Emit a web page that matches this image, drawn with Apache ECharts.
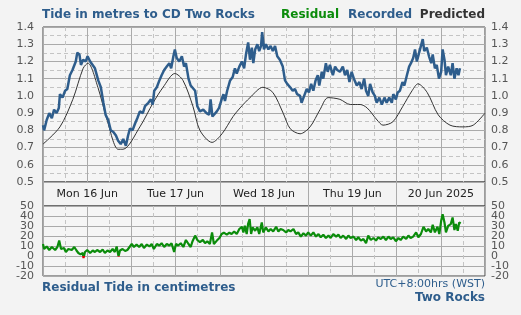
<!DOCTYPE html>
<html>
<head>
<meta charset="utf-8">
<script src="https://cdn.jsdelivr.net/npm/echarts@6/dist/echarts.min.js"></script>
<style>
  html, body { margin: 0; padding: 0; background: #f3f3f3; }
  #chart { width: 521px; height: 315px; }
</style>
</head>
<body>
<div id="chart"></div>
<script>
// hours since Mon 16 Jun 00:00 (WST)
var days = ["Mon 16 Jun", "Tue 17 Jun", "Wed 18 Jun", "Thu 19 Jun", "20 Jun 2025"];

// predicted tide (m)
var predicted = [
  [0, 0.72], [4.6, 0.82], [8.1, 0.98], [10.9, 1.16], [12.2, 1.19], [14.9, 1.05],
  [17.4, 0.86], [20.4, 0.69], [21.7, 0.69], [26.3, 0.82], [29.9, 0.96], [32.6, 1.05],
  [35.8, 1.13], [38.0, 1.09], [40.7, 0.94], [42.6, 0.80], [45.9, 0.73], [48.6, 0.78],
  [51.6, 0.88], [53.5, 0.93], [56.2, 0.99], [59.7, 1.05], [62.4, 1.02], [65.2, 0.90],
  [67.1, 0.81], [69.8, 0.78], [72.5, 0.82], [75.2, 0.92], [77.4, 0.99], [80.6, 0.98],
  [83.4, 0.95], [86.1, 0.95], [88.0, 0.93], [90.7, 0.86], [92.3, 0.83], [95.0, 0.85],
  [97.7, 0.94], [100.2, 1.03], [101.8, 1.07], [104.3, 1.02], [107.3, 0.89], [110.5, 0.83],
  [114.0, 0.82], [116.8, 0.83], [120, 0.90]
];

// recorded tide (m)
var recorded = [
  [0, 0.83], [0.3, 0.80], [1.0, 0.86], [1.7, 0.90], [2.4, 0.87], [3.0, 0.92], [3.7, 0.90],
  [4.3, 0.93], [4.6, 1.01], [5.3, 0.99], [6.0, 1.03], [6.6, 1.04], [7.3, 1.12], [8.0, 1.15],
  [8.4, 1.14], [8.9, 1.20], [9.3, 1.25], [9.9, 1.24], [10.3, 1.18], [10.9, 1.21], [11.6, 1.20],
  [12.1, 1.23], [12.8, 1.20], [13.2, 1.19], [14.1, 1.16], [15.0, 1.09], [15.7, 1.05],
  [16.4, 0.96], [17.0, 0.89], [17.7, 0.86], [18.4, 0.80], [19.1, 0.79], [19.8, 0.77],
  [20.4, 0.74], [21.1, 0.72], [21.8, 0.75], [22.5, 0.71], [23.1, 0.77], [23.6, 0.81],
  [24.3, 0.80], [25.0, 0.84], [25.6, 0.87], [26.3, 0.91], [27.1, 0.90], [27.7, 0.94],
  [28.6, 0.96], [29.3, 0.98], [29.8, 0.95], [30.2, 1.03], [30.9, 1.05], [31.6, 1.09],
  [32.2, 1.12], [32.9, 1.15], [33.6, 1.17], [34.3, 1.19], [34.8, 1.16], [35.4, 1.23],
  [35.8, 1.27], [36.3, 1.22], [37.0, 1.20], [37.7, 1.23], [38.3, 1.17], [38.8, 1.19],
  [39.5, 1.10], [40.1, 1.06], [40.6, 1.07], [41.3, 1.03], [41.9, 0.94], [42.6, 0.91],
  [43.5, 0.92], [44.4, 0.90], [45.1, 0.89], [45.5, 0.98], [46.0, 0.88], [46.5, 0.87],
  [47.2, 0.91], [47.8, 0.93], [48.5, 0.98], [49.0, 1.01], [49.4, 0.97], [50.0, 1.03],
  [50.8, 1.09], [51.5, 1.11], [52.1, 1.16], [52.6, 1.13], [53.3, 1.17], [54.0, 1.20],
  [54.6, 1.16], [55.1, 1.24], [55.7, 1.31], [56.2, 1.21], [56.7, 1.28], [57.1, 1.19],
  [57.6, 1.27], [58.2, 1.30], [58.7, 1.26], [59.2, 1.29], [59.5, 1.37], [60.0, 1.27],
  [60.5, 1.30], [61.2, 1.27], [61.8, 1.29], [62.4, 1.26], [63.0, 1.29], [63.6, 1.23],
  [64.3, 1.21], [65.1, 1.17], [65.7, 1.09], [66.3, 1.07], [67.1, 1.05], [67.8, 1.03],
  [68.4, 1.04], [69.0, 1.01], [69.8, 1.00], [70.2, 0.96], [70.9, 1.00], [71.6, 1.04],
  [72.2, 1.02], [72.8, 1.07], [73.4, 1.03], [74.0, 1.09], [74.6, 1.12], [75.0, 1.06],
  [75.7, 1.14], [76.1, 1.10], [76.8, 1.19], [77.3, 1.14], [77.9, 1.18], [78.7, 1.12],
  [79.3, 1.17], [79.9, 1.15], [80.6, 1.14], [81.4, 1.17], [82.0, 1.12], [82.6, 1.15],
  [83.2, 1.08], [83.8, 1.14], [84.4, 1.10], [85.2, 1.06], [85.9, 1.08], [86.5, 1.04],
  [87.2, 1.10], [87.7, 1.03], [88.3, 1.00], [88.8, 1.07], [89.5, 1.02], [90.1, 1.00],
  [90.6, 0.96], [91.3, 0.99], [92.0, 0.95], [92.7, 0.99], [93.3, 0.96], [94.0, 0.99],
  [94.7, 0.96], [95.1, 1.01], [95.8, 0.98], [96.3, 1.02], [96.9, 1.03], [97.6, 1.08],
  [98.1, 1.06], [98.8, 1.12], [99.4, 1.17], [99.9, 1.19], [100.5, 1.22], [101.0, 1.27],
  [101.5, 1.20], [102.1, 1.25], [102.6, 1.24], [103.1, 1.33], [103.5, 1.26], [104.2, 1.28],
  [104.8, 1.23], [105.4, 1.19], [105.8, 1.24], [106.4, 1.16], [106.9, 1.18], [107.5, 1.10],
  [108.1, 1.14], [108.5, 1.27], [109.0, 1.21], [109.4, 1.12], [110.0, 1.17], [110.7, 1.12],
  [111.2, 1.19], [111.7, 1.10], [112.3, 1.16], [112.8, 1.12], [113.2, 1.16]
];

// residual (cm)
var residual = [
  [0, 12], [0.3, 7], [1.0, 9.5], [1.7, 6], [2.4, 9], [3.3, 6], [3.9, 9], [4.4, 15.4],
  [4.9, 7], [5.7, 8], [6.2, 4], [6.9, 7], [7.8, 6], [8.5, 9], [9.1, 5.5], [9.6, 3],
  [10.2, 1.6], [10.8, 3], [11.0, -2], [11.4, 4], [12.0, 6], [12.8, 3], [13.5, 5.5],
  [14.1, 4], [14.7, 6], [15.5, 4], [16.2, 6.5], [16.8, 3], [17.5, 5.5], [18.2, 4],
  [18.9, 7], [19.5, 4], [20.0, 9.5], [20.5, -0.4], [20.9, 5.5], [21.6, 7], [22.3, 5],
  [22.9, 6], [23.4, 4], [24.1, 12], [24.7, 9], [25.4, 11.5], [26.1, 9], [26.8, 12],
  [27.4, 8], [28.2, 11.5], [28.9, 9.5], [29.5, 12], [30.1, 7], [30.9, 12], [31.6, 10.5],
  [32.2, 12.8], [32.9, 9], [33.6, 12], [34.3, 10.5], [34.9, 12.8], [35.6, 4], [36.1, 12],
  [36.7, 10.5], [37.4, 12.8], [38.1, 9], [38.8, 16], [39.5, 12], [40.1, 9], [40.6, 14.8],
  [41.3, 20.4], [41.9, 16], [42.6, 13.8], [43.4, 16], [44.0, 12.8], [44.6, 14.8],
  [45.3, 12], [45.9, 23.6], [46.4, 12], [47.2, 15.4], [47.9, 18], [48.5, 22], [49.1, 23.3],
  [49.9, 21.3], [50.6, 23.3], [51.2, 22], [51.9, 24.6], [52.6, 22], [53.3, 27], [54.0, 29.2],
  [54.4, 23.6], [54.8, 30.2], [55.3, 22], [55.7, 32.5], [56.1, 36.8], [56.5, 22],
  [56.9, 28.6], [57.6, 25.3], [58.2, 28.6], [58.7, 22], [59.4, 33.5], [59.8, 23.6],
  [60.5, 28.6], [61.2, 24.6], [61.8, 27], [62.5, 24.6], [63.3, 29.2], [63.9, 24.6],
  [64.5, 27], [65.2, 26], [66.0, 23.6], [66.6, 26], [67.2, 24.6], [68.0, 27], [68.7, 22],
  [69.3, 23.6], [70.0, 19.4], [70.7, 22.7], [71.4, 20.4], [72.0, 23.6], [72.7, 20.4],
  [73.4, 23.6], [74.1, 19.4], [74.8, 22], [75.4, 18.7], [76.1, 21.3], [76.8, 18],
  [77.5, 20.4], [78.1, 18], [78.8, 22], [79.6, 19.4], [80.2, 21.3], [80.8, 18], [81.5, 20.4],
  [82.3, 17], [82.9, 20.4], [83.5, 18], [84.3, 19.4], [85.0, 16], [85.6, 18.7], [86.3, 15.4],
  [87.0, 17], [87.7, 12.8], [88.3, 20.4], [89.0, 16], [89.7, 18], [90.4, 15.4], [91.0, 18.7],
  [91.7, 17], [92.4, 19.4], [93.1, 16], [93.8, 19.4], [94.4, 17], [95.1, 18.7], [95.8, 14.8],
  [96.5, 18], [97.1, 16], [97.8, 19.4], [98.6, 17], [99.2, 20.4], [99.8, 18], [100.5, 19.4],
  [101.3, 23.6], [101.9, 18.7], [102.6, 22], [103.3, 29.2], [104.0, 24.6], [104.6, 27],
  [105.3, 23.6], [105.8, 31.2], [106.4, 23.6], [107.1, 29.2], [107.6, 22], [108.1, 35.2],
  [108.5, 41.7], [109.0, 33.5], [109.4, 23.6], [110.0, 30.2], [110.7, 31.9], [111.2, 38.5],
  [111.7, 26], [112.1, 31.9], [112.6, 25.3], [113.0, 33.5], [113.4, 32.5]
];

var FONT = "DejaVu Sans";
var BLUE = "#2e5d8c";
var LABEL = "#555";

var chart = echarts.init(document.getElementById("chart"));

function timeAxis(grid) {
  return {
    type: "value", gridIndex: grid, min: 0, max: 120, interval: 12,
    axisLabel: { show: false }, axisLine: { show: false }, axisTick: { show: false },
    splitLine: { show: true, lineStyle: { color: "#aaa", width: 1 } },
    minorTick: { show: false, splitNumber: 2 },
    minorSplitLine: { show: true, lineStyle: { color: "#c4c4c4", type: [4, 3] } }
  };
}

function levelAxis(grid, pos, min, max, step, fmt, lines, minor) {
  return {
    type: "value", gridIndex: grid, position: pos, min: min, max: max, interval: step,
    axisLine: { show: false }, axisTick: { show: false },
    axisLabel: {
      color: LABEL, fontFamily: FONT, fontSize: 11,
      showMinLabel: true, showMaxLabel: true, hideOverlap: false,
      margin: pos === "left" ? 9 : 6, formatter: fmt
    },
    splitLine: { show: lines, lineStyle: { color: "#aaa", width: 1 } },
    minorTick: { show: false, splitNumber: 2 },
    minorSplitLine: { show: minor, lineStyle: { color: "#c4c4c4", type: [4, 3] } }
  };
}

var fmtM = function (v) { return v.toFixed(1); };
// residual labels are only 10px apart, so they are split over two axes
var fmtEven = function (v) { return Math.round(v / 10) % 2 === 0 ? String(Math.round(v)) : ""; };
var fmtOdd = function (v) { return Math.round(v / 10) % 2 !== 0 ? String(Math.round(v)) : ""; };

var option = {
  animation: false,
  backgroundColor: "#f3f3f3",
  grid: [
    { left: 43, top: 27, width: 442, height: 155, show: true, borderColor: "#444", borderWidth: 1, backgroundColor: "#f5f5f5" },
    { left: 43, top: 182, width: 442, height: 24, show: true, borderColor: "#444", borderWidth: 1 },
    { left: 43, top: 206, width: 442, height: 70, show: true, borderColor: "#444", borderWidth: 1, backgroundColor: "#f5f5f5" }
  ],
  xAxis: [
    timeAxis(0),
    {
      type: "category", gridIndex: 1, data: days, position: "top", boundaryGap: true,
      axisLine: { show: false }, axisTick: { show: false },
      axisLabel: { inside: true, margin: 7, verticalAlign: "top", color: "#222", fontFamily: FONT, fontSize: 11 },
      splitLine: { show: true, interval: 0, lineStyle: { color: "#aaa" } }
    },
    timeAxis(2)
  ],
  yAxis: [
    levelAxis(0, "left", 0.5, 1.4, 0.1, fmtM, true, true),
    levelAxis(0, "right", 0.5, 1.4, 0.1, fmtM, false, false),
    { type: "value", gridIndex: 1, show: false },
    levelAxis(2, "left", -20, 50, 10, fmtEven, true, false),
    levelAxis(2, "left", -20, 50, 10, fmtOdd, false, false),
    levelAxis(2, "right", -20, 50, 10, fmtEven, false, false),
    levelAxis(2, "right", -20, 50, 10, fmtOdd, false, false)
  ],
  visualMap: {
    show: false, seriesIndex: 2, dimension: 1,
    pieces: [
      { gte: -100, lt: 0, color: "#e00000" },
      { gte: 0, lte: 100, color: "#0b8c0b" }
    ]
  },
  series: [
    {
      name: "Predicted", type: "line", xAxisIndex: 0, yAxisIndex: 0, data: predicted,
      showSymbol: false, smooth: 0.3, lineStyle: { color: "#333", width: 1 }
    },
    {
      name: "Recorded", type: "line", xAxisIndex: 0, yAxisIndex: 0, data: recorded,
      showSymbol: false, lineStyle: { color: BLUE, width: 2.5 }
    },
    {
      name: "Residual", type: "line", xAxisIndex: 2, yAxisIndex: 3, data: residual,
      showSymbol: false, lineStyle: { width: 2.2 }
    }
  ],
  graphic: [
    { type: "text", left: 42, top: 9, style: { text: "Tide in metres to CD Two Rocks", fill: BLUE, font: "bold 12px " + FONT } },
    { type: "text", right: 36, top: 9, style: { text: "Predicted", fill: "#333", font: "bold 12px " + FONT } },
    { type: "text", right: 109, top: 9, style: { text: "Recorded", fill: BLUE, font: "bold 12px " + FONT } },
    { type: "text", right: 182, top: 9, style: { text: "Residual", fill: "#0b8c0b", font: "bold 12px " + FONT } },
    { type: "text", left: 42, top: 282, style: { text: "Residual Tide in centimetres", fill: BLUE, font: "bold 12px " + FONT } },
    { type: "text", right: 36, top: 279, style: { text: "UTC+8:00hrs (WST)", fill: BLUE, font: "11px " + FONT } },
    { type: "text", right: 36, top: 292, style: { text: "Two Rocks", fill: BLUE, font: "bold 12px " + FONT } }
  ]
};

chart.setOption(option);
</script>
</body>
</html>
